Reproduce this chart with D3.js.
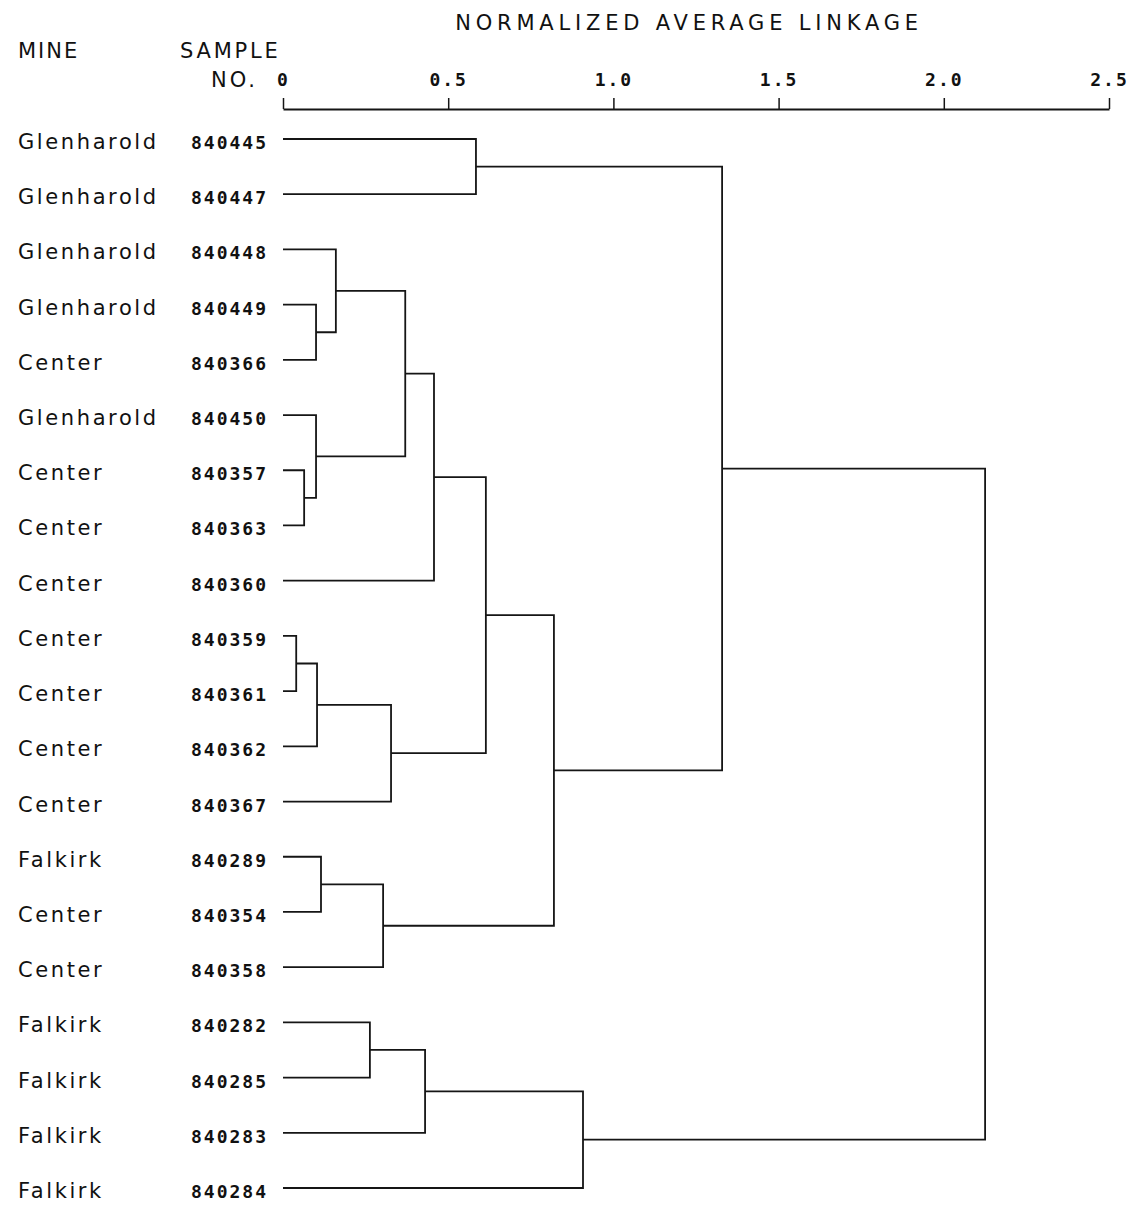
<!DOCTYPE html>
<html>
<head>
<meta charset="utf-8">
<script src="https://cdn.jsdelivr.net/npm/d3@7"></script>
<style>
  body { margin: 0; background: #fff; }
  .lbl { font-family: "DejaVu Sans", sans-serif; fill: #111; }
  .num { font-family: "DejaVu Sans Mono", monospace; fill: #111; font-weight: bold; }
</style>
</head>
<body>
<div id="chart"></div>
<script>
// leaves, top to bottom
var mines = ["Glenharold", "Glenharold", "Glenharold", "Glenharold", "Center",
    "Glenharold", "Center", "Center", "Center", "Center", "Center", "Center",
    "Center", "Falkirk", "Center", "Center", "Falkirk", "Falkirk", "Falkirk", "Falkirk"];
var samples = ["840445", "840447", "840448", "840449", "840366", "840450", "840357",
    "840363", "840360", "840359", "840361", "840362", "840367", "840289", "840354",
    "840358", "840282", "840285", "840283", "840284"];

// merges: ids < 20 are leaves, merge i gets id 20 + i
var mergeLeft  = [3, 2, 6, 5, 21, 24, 9, 26, 27, 25, 13, 30, 29, 0, 33, 16, 35, 36, 34];
var mergeRight = [4, 20, 7, 22, 23, 8, 10, 11, 12, 28, 14, 15, 31, 1, 32, 17, 18, 19, 37];
var mergeHeight = [0.10, 0.16, 0.064, 0.10, 0.37, 0.457, 0.04, 0.103, 0.327, 0.614,
    0.115, 0.303, 0.82, 0.584, 1.329, 0.263, 0.43, 0.908, 2.125];

var tickValues = [0, 0.5, 1.0, 1.5, 2.0, 2.5];
var tickLabels = ["0", "0.5", "1.0", "1.5", "2.0", "2.5"];

var width = 1139, height = 1205;
var svg = d3.select("#chart").append("svg")
    .attr("width", width)
    .attr("height", height);

var x = d3.scaleLinear().domain([0, 2.5]).range([283, 1109]);
var y = d3.scalePoint().domain(d3.range(samples.length)).range([139, 1188]);

// node positions
var nodeX = [], nodeY = [];
samples.forEach(function(s, i) { nodeX.push(x(0)); nodeY.push(y(i)); });
mergeHeight.forEach(function(h, i) {
    nodeX.push(x(h));
    nodeY.push((nodeY[mergeLeft[i]] + nodeY[mergeRight[i]]) / 2);
});

// dendrogram links
svg.append("g").selectAll("path")
    .data(mergeHeight)
  .enter().append("path")
    .attr("d", function(h, i) {
        var a = mergeLeft[i], b = mergeRight[i];
        return "M" + nodeX[a] + "," + nodeY[a]
            + "H" + x(h) + "V" + nodeY[b] + "H" + nodeX[b];
    })
    .style("fill", "none")
    .style("stroke", "#151515")
    .style("stroke-width", 1.8);

// axis on top
var axis = svg.append("g")
    .attr("transform", "translate(0,109)")
    .call(d3.axisTop(x).tickValues(tickValues).tickSize(11).tickSizeOuter(0)
        .tickPadding(12)
        .tickFormat(function(d, i) { return tickLabels[i]; }));
axis.select(".domain").attr("stroke", "#151515").attr("stroke-width", 1.8);
axis.selectAll(".tick line").attr("stroke", "#151515").attr("stroke-width", 1.5);
axis.selectAll(".tick text")
    .attr("class", "num")
    .attr("font-size", 18)
    .style("letter-spacing", "2px")
    .attr("fill", "#111");

// headers
svg.append("text").attr("class", "lbl")
    .attr("x", 689).attr("y", 30)
    .attr("text-anchor", "middle")
    .attr("font-size", 21).style("letter-spacing", "4.8px")
    .text("NORMALIZED AVERAGE LINKAGE");
svg.append("text").attr("class", "lbl")
    .attr("x", 18).attr("y", 58)
    .attr("font-size", 21).style("letter-spacing", "2px")
    .text("MINE");
svg.append("text").attr("class", "lbl")
    .attr("x", 180).attr("y", 58)
    .attr("font-size", 21).style("letter-spacing", "2.8px")
    .text("SAMPLE");
svg.append("text").attr("class", "lbl")
    .attr("x", 258).attr("y", 87)
    .attr("text-anchor", "end")
    .attr("font-size", 21).style("letter-spacing", "3px")
    .text("NO.");

// leaf labels
var rows = svg.append("g").selectAll("g")
    .data(samples)
  .enter().append("g")
    .attr("transform", function(d, i) { return "translate(0," + y(i) + ")"; });
rows.append("text").attr("class", "lbl")
    .attr("x", 18).attr("y", 10)
    .attr("font-size", 21).style("letter-spacing", "2.6px")
    .text(function(d, i) { return mines[i]; });
rows.append("text").attr("class", "num")
    .attr("x", 268).attr("y", 10)
    .attr("text-anchor", "end")
    .attr("font-size", 18).style("letter-spacing", "2px")
    .text(function(d) { return d; });
</script>
</body>
</html>
